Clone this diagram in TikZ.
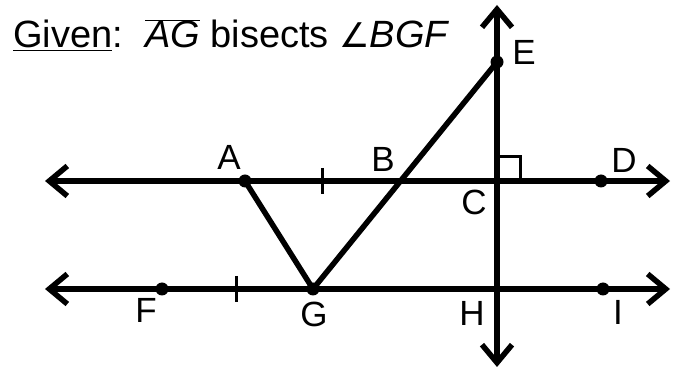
\documentclass[tikz,border=0pt]{standalone}
\usepackage{fontspec}
\setmainfont{Liberation Sans}
\newfontfamily\symfont{DejaVu Sans}
\usetikzlibrary{arrows.meta,positioning}
\tikzset{
  pt/.style={circle,fill=black,inner sep=0pt,minimum size=13pt},
  lbl/.style={inner sep=0pt,font=\fontsize{35}{40}\selectfont},
  ray/.style={{Straight Barb[length=18pt,width=30pt]}-{Straight Barb[length=18pt,width=30pt]},line width=5.5pt},
  seg/.style={line width=5.5pt,line cap=round},
  tickmark/.style={line width=3pt},
}

\begin{document}
\begin{tikzpicture}[x=1pt,y=-1pt]
  \useasboundingbox (0,0) rectangle (673,371);
  % points
  \coordinate (A) at (245,181);
  \coordinate (B) at (400,181);
  \coordinate (C) at (497,181);
  \coordinate (D) at (601,181);
  \coordinate (E) at (497,62);
  \coordinate (F) at (162,289);
  \coordinate (G) at (313,289);
  \coordinate (H) at (497,289);
  \coordinate (I) at (603,289);
  % line ends
  \coordinate (topL) at (45,181);
  \coordinate (topR) at (670,181);
  \coordinate (botL) at (45,289);
  \coordinate (botR) at (670,289);
  \coordinate (vUp) at (497,5);
  \coordinate (vDn) at (497,367);
  \draw[ray] (topL) -- (topR);
  \draw[ray] (botL) -- (botR);
  \draw[ray] (vDn) -- (vUp);
  \draw[seg] (A) -- (G) -- (E);
  % right angle and ticks
  \draw[tickmark] ([yshift=24pt]C) -- ++(23,0) -- ++(0,24);
  \draw[tickmark] (322,168) -- (322,194);
  \draw[tickmark] (236,276) -- (236,302);
  \foreach \p in {A,D,E,F,G,I}
    \node[pt] at (\p) {};
  % labels
  \node[lbl] (labA) at (229,157) {A};
  \node[lbl] (labB) at (383,159) {B};
  \node[lbl] (labC) at (474,202) {C};
  \node[lbl] (labD) at (624,160) {D};
  \node[lbl] (labE) at (524,52) {E};
  \node[lbl] (labF) at (146,310) {F};
  \node[lbl] (labG) at (314,314) {G};
  \node[lbl] (labH) at (472,313) {H};
  \node[lbl] (labI) at (618,312) {I};
  \node[anchor=base west,inner sep=0pt,font=\fontsize{38}{42}\selectfont] (given) at (13,48)
    {\underline{Given}:\hspace{22pt}$\overline{\mbox{\itshape AG}}$ bisects {\symfont\fontsize{34}{40}\selectfont ∠}\textit{BGF}};
\end{tikzpicture}
\end{document}
